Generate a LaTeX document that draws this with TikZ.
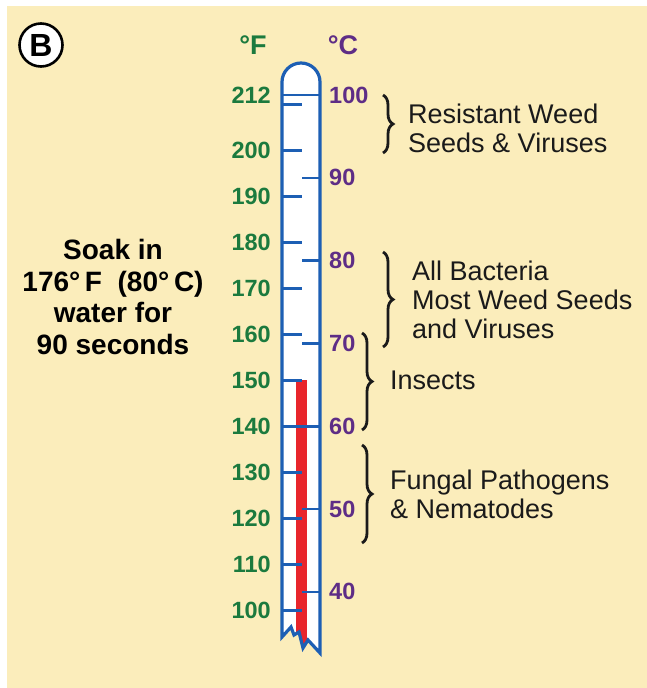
\documentclass[tikz,border=0pt]{standalone}
\usepackage{fontspec}
\setmainfont{Liberation Sans}
\usepackage{tikz}
\usetikzlibrary{calc,decorations.pathreplacing}
\definecolor{PanelCream}{HTML}{FBEDBB}
\definecolor{ScaleGreen}{HTML}{1B7A3E}
\definecolor{ScalePurple}{HTML}{5E2D86}
\definecolor{TubeBlue}{HTML}{1D5FB4}
\definecolor{MercuryRed}{HTML}{E8252B}
\definecolor{Ink}{HTML}{1A1A1A}
\newcommand{\tubeshape}{(282,637) -- (282,82) arc[start angle=180,end angle=0,radius=19pt] -- (320,653) -- (308,640) -- (303,648) -- (299,632) -- (294,635) -- (291,627) -- cycle}

\begin{document}
\begin{tikzpicture}[x=1pt,y=-1pt,
  fnum/.style={font=\fontsize{23.5}{23.5}\selectfont\bfseries,text=ScaleGreen,anchor=east,inner sep=0pt},
  cnum/.style={font=\fontsize{23.5}{23.5}\selectfont\bfseries,text=ScalePurple,anchor=west,inner sep=0pt},
  unit/.style={font=\fontsize{27}{27}\selectfont\bfseries,inner sep=0pt},
  scaletick/.style={draw=TubeBlue,line width=2.6pt},
  tube/.style={draw=TubeBlue,line width=3.2pt,line join=miter},
  group/.style={font=\fontsize{27}{29}\selectfont,text=Ink,align=left,anchor=west,inner sep=0pt},
  soak/.style={font=\fontsize{28}{31.5}\selectfont\bfseries,text=black,align=center,inner sep=0pt},
  bracket/.style={decorate,decoration={brace,amplitude=10pt},draw=Ink,line width=2.8pt}
]
\useasboundingbox (0,0) rectangle (647,688);
\fill[PanelCream] (7,6) rectangle (647,688);

\node[circle,draw=black,line width=2.6pt,fill=white,minimum size=43pt,inner sep=0pt,font=\fontsize{32}{32}\selectfont\bfseries] (badge) at (41,45) {B};

\node[unit,text=ScaleGreen] (fhead) at (253,45) {°F};
\node[unit,text=ScalePurple] (chead) at (343,45) {°C};

% tube with mercury
\path[fill=white] \tubeshape;
\begin{scope}
  \clip \tubeshape;
  \fill[MercuryRed] (296,380) rectangle (307,700);
\end{scope}

% fahrenheit side
\foreach \f in {100,110,...,210,212} {
  \draw[scaletick] (282,{95+(212-\f)*4.6}) -- ++(20,0);
}
\foreach \f in {100,110,...,200,212} {
  \node[fnum] (f\f) at (271,{95+(212-\f)*4.6}) {\f};
}

% celsius side
\foreach \c in {40,50,...,100} {
  \pgfmathsetmacro\cy{95+(212-(32+1.8*\c))*4.6}
  \draw[scaletick] (320,\cy) -- ++(-18,0);
  \node[cnum] (c\c) at (329,\cy) {\c};
}

\draw[tube] \tubeshape;

\node[soak] (soakNote) at (113,297) {Soak in\\176°\,F\ \ (80°\,C)\\water for\\90 seconds};

% killing ranges
\coordinate (resTop) at (383,95);
\coordinate (resBot) at (383,153);
\coordinate (bacTop) at (383,252);
\coordinate (bacBot) at (383,347);
\coordinate (insTop) at (362,333);
\coordinate (insBot) at (362,430);
\coordinate (funTop) at (362,445);
\coordinate (funBot) at (362,543);

\draw[bracket] (resTop) -- (resBot);
\draw[bracket] (bacTop) -- (bacBot);
\draw[bracket] (insTop) -- (insBot);
\draw[bracket] (funTop) -- (funBot);

\node[group] (resistant) at (408,128) {Resistant Weed\\Seeds \& Viruses};
\node[group] (bacteria) at (412,300) {All Bacteria\\Most Weed Seeds\\and Viruses};
\node[group] (insects) at (390,380) {Insects};
\node[group] (fungal) at (390,494) {Fungal Pathogens\\\& Nematodes};
\end{tikzpicture}
\end{document}
